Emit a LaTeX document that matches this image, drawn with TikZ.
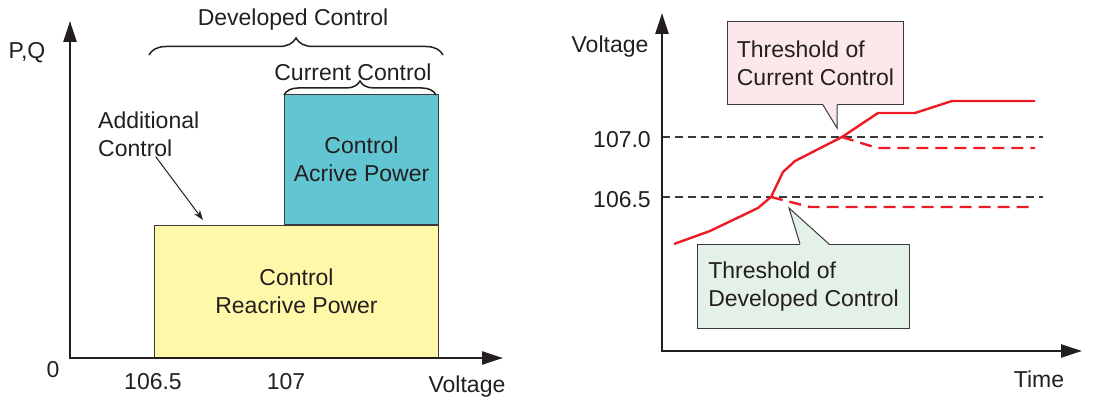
\documentclass[tikz,border=0pt]{standalone}
\usepackage{fontspec}
\setmainfont{Liberation Sans}
\usetikzlibrary{arrows.meta,positioning,calc,decorations.pathreplacing}
\definecolor{ink}{HTML}{231F20}
\definecolor{edge}{HTML}{3A3A3A}
\definecolor{qfill}{HTML}{FFF8A8}
\definecolor{pfill}{HTML}{62C6D2}
\definecolor{cfill}{HTML}{FCE8EA}
\definecolor{dfill}{HTML}{E3F1E6}
\definecolor{lred}{HTML}{ED1C24}
\tikzset{
  txt/.style={font=\fontsize{23}{28}\selectfont,text=ink,align=center,inner sep=0pt},
  area/.style={txt,draw=edge,line width=1pt},
  axis/.style={line width=2.4pt,draw=ink,
    {Triangle[length=21pt,width=13pt]}-{Triangle[length=21pt,width=13pt]}},
  grid/.style={draw=edge,line width=1.2pt,dash pattern=on 8pt off 5pt},
  volt/.style={draw=lred,line width=2.4pt,line join=round},
  drop/.style={volt,dash pattern=on 12pt off 7pt},
  callbox/.style={txt,draw=edge,line width=1pt,align=left,inner xsep=9pt,anchor=north west},
  brace/.style={decorate,decoration={brace,amplitude=17pt},line width=1.5pt,draw=ink},
  pointer/.style={-{Stealth[length=10pt,width=7pt]},line width=1pt,draw=ink}
}

\begin{document}
\begin{tikzpicture}[x=1pt,y=-1pt]
  \useasboundingbox (0,0) rectangle (1093,403);

  % left: power against voltage
  \node[area,fill=qfill,minimum width=284,minimum height=132,anchor=south west] (qbox)
    at (154,358) {Control\\Reacrive Power};
  \node[area,fill=pfill,minimum width=154,minimum height=130,anchor=south east] (pbox)
    at (qbox.north east) {Control\\Acrive Power};

  \coordinate (lo) at (70,358);
  \coordinate (ltop) at (70,21);
  \coordinate (lright) at (503,358);
  \draw[axis] (ltop) -- (lo) -- (lright);

  \node[txt] (pq) at (27,53) {P,Q};
  \node[txt] (zero) at (53,370) {0};
  \node[txt] (v65) at (153,382) {106.5};
  \node[txt] (v70) at (286,382) {107};
  \node[txt] (vx) at (467,387) {Voltage};

  \coordinate (devL) at (149,55);
  \coordinate (devR) at (443,55);
  \draw[brace] (devL) -- (devR);
  \node[txt] (devlbl) at (293,20) {Developed Control};
  \coordinate (curL) at (284,95);
  \coordinate (curR) at (436,95);
  \draw[brace,decoration={amplitude=14pt}] (curL) -- (curR);
  \node[txt] (curlbl) at (353,72) {Current Control};

  \node[txt,align=left,anchor=west] (add) at (98,134) {Additional\\Control};
  \draw[pointer] ([xshift=7pt]add.south) -- ($(qbox.north west)+(49,-5)$);

  % right: voltage against time
  \coordinate (ro) at (662,351);
  \coordinate (rtop) at (662,13);
  \coordinate (rright) at (1082,351);
  \draw[grid] (662,137) -- (1043,137);
  \draw[grid] (662,197) -- (1043,197);
  \draw[axis] (rtop) -- (ro) -- (rright);

  \node[txt] (vy) at (610,47) {Voltage};
  \node[txt] (l70) at (622,140) {107.0};
  \node[txt] (l65) at (622,200) {106.5};
  \node[txt] (time) at (1039,379) {Time};

  \draw[volt] (674,244) -- (710,231) -- (758,208) -- (771,197) -- (783,172) -- (795,161)
    -- (842,137) -- (878,113) -- (915,113) -- (952,101) -- (1035,101);
  \draw[drop] (771,197) -- (810,207) -- (1030,207);
  \draw[drop] (842,137) -- (877,148) -- (1035,148);

  \node[callbox,fill=cfill,minimum width=176pt,minimum height=83pt] (cur) at (727,21)
    {Threshold of\\Current Control};
  \coordinate (curtip) at (837,128);
  \fill[cfill] ($(cur.south west)+(96,-1)$) -- (curtip) -- ($(cur.south west)+(110,-1)$) -- cycle;
  \draw[draw=edge,line width=1pt] ($(cur.south west)+(96,0)$) -- (curtip) -- ($(cur.south west)+(110,0)$);

  \node[callbox,fill=dfill,minimum width=212pt,minimum height=84pt] (dev) at (697,244)
    {Threshold of\\Developed Control};
  \coordinate (devtip) at (789,208);
  \fill[dfill] ($(dev.north west)+(103,1)$) -- (devtip) -- ($(dev.north west)+(132,1)$) -- cycle;
  \draw[draw=edge,line width=1pt] ($(dev.north west)+(103,0)$) -- (devtip) -- ($(dev.north west)+(132,0)$);
\end{tikzpicture}
\end{document}
